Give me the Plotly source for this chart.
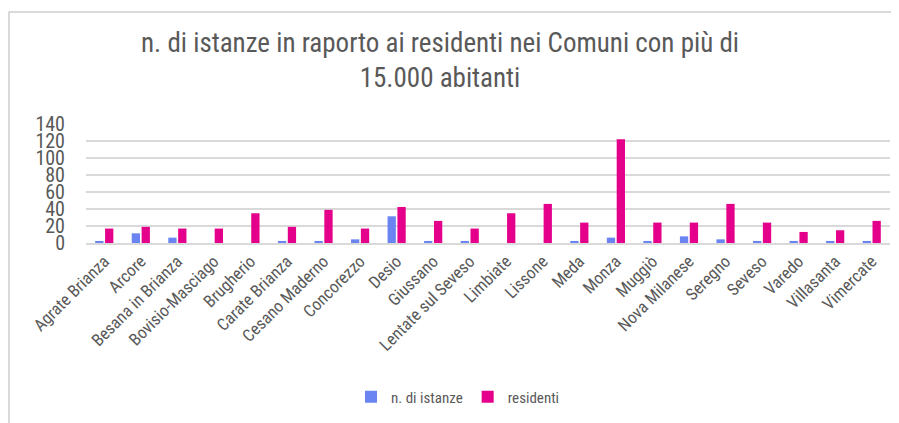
import plotly.graph_objects as go

comuni = ["Agrate Brianza", "Arcore", "Besana in Brianza", "Bovisio-Masciago", "Brugherio",
          "Carate Brianza", "Cesano Maderno", "Concorezzo", "Desio", "Giussano",
          "Lentate sul Seveso", "Limbiate", "Lissone", "Meda", "Monza", "Muggiò",
          "Nova Milanese", "Seregno", "Seveso", "Varedo", "Villasanta", "Vimercate"]
istanze = [2.4, 11.4, 6.3, 0, 0, 2.4, 2.4, 4.3, 31.4, 2.4,
           2.4, 0, 0, 2.4, 6.3, 2.4, 7.8, 4.3, 2.4, 2.4, 2.4, 2.4]
residenti = [17, 19, 17, 17, 35, 19, 39, 17, 42.4, 26,
             17, 35, 46, 24, 122, 24, 24, 46, 24, 13, 15, 26]
y_ticks = [0, 20, 40, 60, 80, 100, 120, 140]

FONT = "Liberation Sans Narrow, Arial Narrow, Roboto Condensed, Liberation Sans, sans-serif"
GREY = "#595959"

fig = go.Figure()
fig.add_trace(go.Bar(name="n. di istanze", x=comuni, y=istanze,
                     marker=dict(color="#6a84f2", line=dict(width=0))))
fig.add_trace(go.Bar(name="residenti", x=comuni, y=residenti,
                     marker=dict(color="#e4008b", line=dict(width=0))))

# page has an 8px body margin: figure origin sits at (8, 8) in the window
OFF = 8
W, H = 899 - OFF, 423 - OFF
L, R = 86 - OFF, 9
T, B = 124 - OFF, 423 - 243
pw = W - L - R
ph = H - T - B

def px(x):  # window pixel -> paper x
    return (x - OFF - L) / pw

def py(y):  # window pixel -> paper y
    return (H - B - (y - OFF)) / ph

fig.update_layout(
    width=W, height=H,
    margin=dict(l=L, r=R, t=T, b=B, autoexpand=False),
    paper_bgcolor="white", plot_bgcolor="white",
    barmode="group", bargap=0.46, bargroupgap=0.16,
    font=dict(family=FONT, color=GREY),
    title=dict(text="n. di istanze in raporto ai residenti nei Comuni con più di<br>15.000 abitanti",
               x=(440 - OFF) / W, xanchor="center", xref="container",
               y=1 - 44 / H, yanchor="top", yref="container",
               font=dict(family=FONT, size=27, color=GREY)),
    legend=dict(orientation="h", x=px(458), xanchor="center", y=py(397), yanchor="middle",
                font=dict(family=FONT, size=15, color=GREY), itemwidth=30,
                traceorder="normal"),
    xaxis=dict(tickangle=-45, tickfont=dict(family=FONT, size=17, color=GREY),
               showgrid=False, showline=True, linecolor="#d9d9d9", linewidth=1.5,
               ticks="", range=[-0.5, len(comuni) - 0.5], automargin=False),
    yaxis=dict(range=[0, 140], tickvals=y_ticks, tickfont=dict(family=FONT, size=20, color=GREY),
               showgrid=True, gridcolor="#d9d9d9", gridwidth=1.5, automargin=False,
               zeroline=False, showline=False, ticklabelstandoff=20),
    shapes=[
        dict(type="line", xref="paper", yref="paper", x0=px(8.5), x1=px(897), y0=py(12), y1=py(12),
             line=dict(color="#d9d9d9", width=2)),
        dict(type="line", xref="paper", yref="paper", x0=px(9), x1=px(9), y0=py(12), y1=py(423),
             line=dict(color="#d9d9d9", width=2)),
    ],
)

fig.write_html("out.html")
